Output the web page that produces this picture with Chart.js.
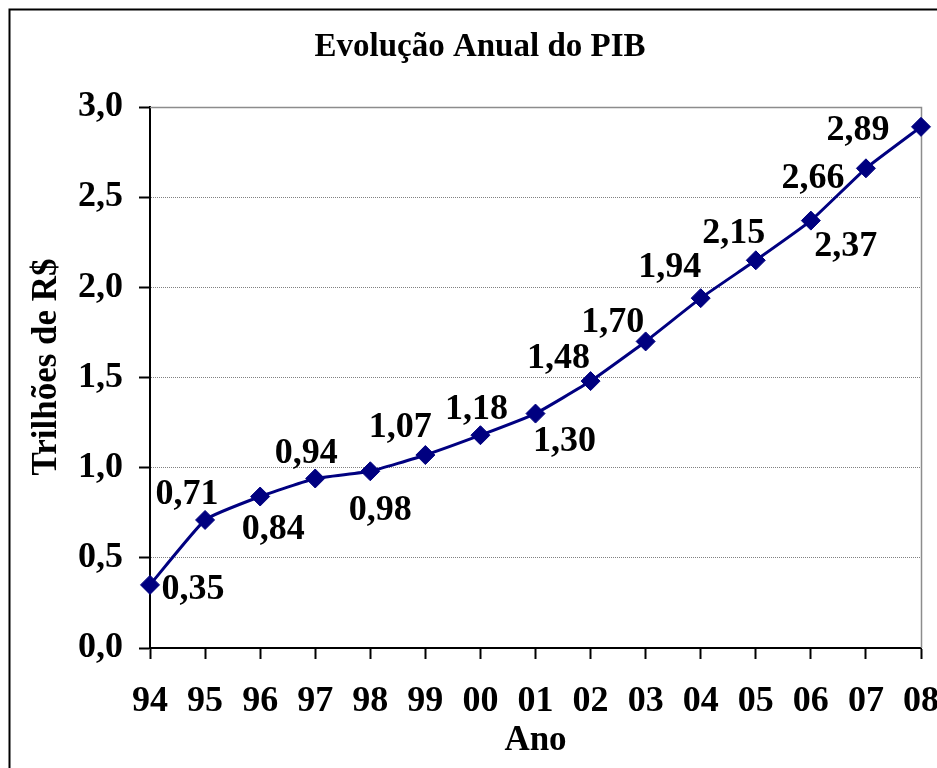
<!DOCTYPE html>
<html>
<head>
<meta charset="utf-8">
<script src="https://cdn.jsdelivr.net/npm/chart.js@4"></script>
<style>
  html, body { margin: 0; padding: 0; background: #fff; }
</style>
</head>
<body>
<canvas id="graficoPIB" width="937" height="768"></canvas>
<script>
// Dados do gráfico
const anos = ['94', '95', '96', '97', '98', '99', '00', '01', '02', '03', '04', '05', '06', '07', '08'];
const pib = [0.35, 0.71, 0.84, 0.94, 0.98, 1.07, 1.18, 1.30, 1.48, 1.70, 1.94, 2.15, 2.37, 2.66, 2.89];
const eixoYMin = 0;
const eixoYMax = 3;
const eixoYPasso = 0.5;

const tituloGrafico = 'Evolução Anual do PIB';
const tituloEixoY = 'Trilhões de R$';
const tituloEixoX = 'Ano';

// deslocamento de cada rótulo em relação ao seu ponto (px)
const rotuloDesloc = [[43, 5], [-18, -25], [13, 33], [-9, -25], [10, 39], [-25, -27], [-4, -26],
  [29, 28], [-32, -22], [-33, -19], [-31, -30], [-22, -27], [35, 26], [-53, 10], [-63, 4]];

const fonte = "'Liberation Serif', 'Times New Roman', serif";
const virgula = v => v.toFixed(2).replace('.', ',');

// moldura, titulos, borda direita e rotulos dos pontos
const extras = {
  id: 'extras',
  beforeDatasetsDraw(chart) {
    const { ctx, chartArea } = chart;
    ctx.save();
    ctx.strokeStyle = '#8c8c8c';
    ctx.lineWidth = 1.5;
    ctx.beginPath();
    ctx.moveTo(chartArea.left, chartArea.top + 0.5);
    ctx.lineTo(chartArea.right + 0.5, chartArea.top + 0.5);
    ctx.lineTo(chartArea.right + 0.5, chartArea.bottom);
    ctx.stroke();
    ctx.restore();
  },
  afterDraw(chart) {
    const { ctx } = chart;
    ctx.save();
    ctx.strokeStyle = '#000';
    ctx.lineWidth = 2;
    ctx.beginPath();
    ctx.moveTo(9.5, chart.height);
    ctx.lineTo(9.5, 9.5);
    ctx.lineTo(chart.width, 9.5);
    ctx.stroke();

    ctx.fillStyle = '#000';
    ctx.textAlign = 'center';
    ctx.textBaseline = 'middle';
    ctx.font = 'bold 33px ' + fonte;
    ctx.fillText(tituloGrafico, 480, 47);

    // titulo do eixo Y
    ctx.save();
    ctx.translate(47, 367);
    ctx.rotate(-Math.PI / 2);
    ctx.font = 'bold 35px ' + fonte;
    ctx.fillText(tituloEixoY, 0, 0);
    ctx.restore();

    ctx.font = 'bold 36px ' + fonte;
    const meta = chart.getDatasetMeta(0);
    meta.data.forEach((pt, i) => {
      const d = rotuloDesloc[i];
      ctx.fillText(virgula(pib[i]), pt.x + d[0], pt.y + d[1]);
    });
    ctx.restore();
  }
};

new Chart(document.getElementById('graficoPIB'), {
  type: 'line',
  data: {
    labels: anos,
    datasets: [{
      data: pib,
      borderColor: '#000080',
      backgroundColor: '#000080',
      borderWidth: 3,
      tension: 0.12,
      pointStyle: 'rectRot',
      pointRadius: 9.5,
      pointHoverRadius: 9.5,
      pointBorderWidth: 1,
      clip: false
    }]
  },
  options: {
    responsive: false,
    animation: false,
    layout: { padding: { top: 107, right: 16, bottom: 0, left: 0 } },
    plugins: {
      legend: { display: false },
      title: { display: false },
      tooltip: { enabled: false }
    },
    scales: {
      x: {
        offset: false,
        afterFit: s => { s.height = 120; s.paddingRight = 0; },
        grid: { drawOnChartArea: false, tickLength: 11, tickColor: '#000', tickWidth: 2 },
        border: { color: '#000', width: 2 },
        ticks: { color: '#000', padding: 21, maxRotation: 0, autoSkip: false, font: { family: fonte, size: 36, weight: 'bold' } },
        title: { display: true, text: tituloEixoX, color: '#000', padding: { top: 0, bottom: 6 }, font: { family: fonte, size: 35, weight: 'bold' } }
      },
      y: {
        min: eixoYMin,
        max: eixoYMax,
        afterFit: s => { s.width = 150; },
        grid: { color: '#808080', lineWidth: 1, tickLength: 11, tickColor: '#000', tickWidth: 2 },
        border: { color: '#000', width: 2, dash: [1, 1] },
        ticks: {
          stepSize: eixoYPasso, color: '#000', padding: 16,
          font: { family: fonte, size: 36, weight: 'bold' },
          callback: v => v.toFixed(1).replace('.', ',')
        }
      }
    }
  },
  plugins: [extras]
});
</script>
</body>
</html>
